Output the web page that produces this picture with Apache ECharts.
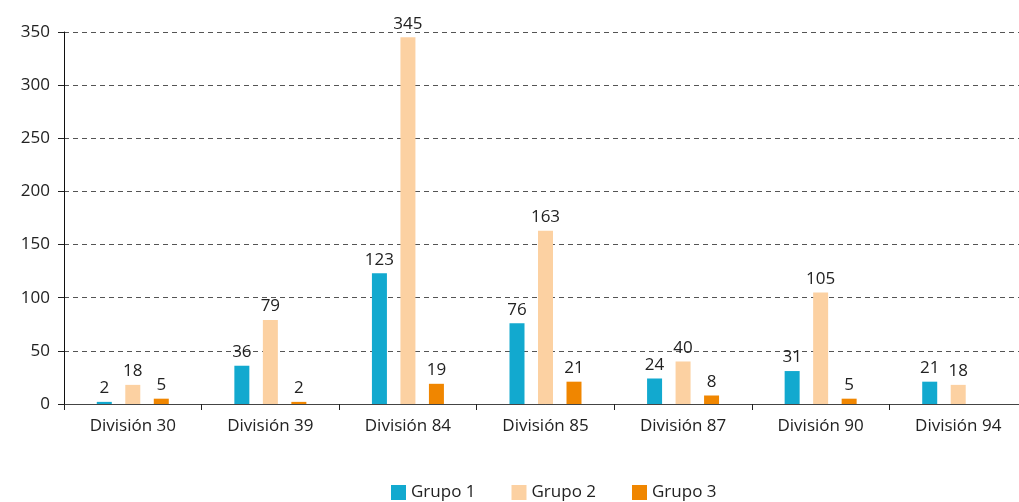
<!DOCTYPE html>
<html>
<head>
<meta charset="utf-8">
<script src="https://cdn.jsdelivr.net/npm/echarts@6/dist/echarts.min.js"></script>
<style>
  html, body { margin: 0; padding: 0; background: #fff; overflow: hidden; }
  #chart { width: 1027px; height: 502px; }
</style>
</head>
<body>
<div id="chart"></div>
<script>
const categories = ['División 30', 'División 39', 'División 84', 'División 85', 'División 87', 'División 90', 'División 94'];
const grupo1 = [2, 36, 123, 76, 24, 31, 21];
const grupo2 = [18, 79, 345, 163, 40, 105, 18];
const grupo3 = [5, 2, 19, 21, 8, 5, null];
const yTicks = { min: 0, max: 350, interval: 50 };

const font = '"Open Sans", Lato, sans-serif';

function bar(name, data, color) {
  return {
    name: name,
    type: 'bar',
    data: data,
    barWidth: 15,
    barGap: '90%',
    itemStyle: { color: color },
    label: {
      show: true,
      position: 'top',
      distance: 5,
      color: '#222',
      fontSize: 17,
      fontFamily: font
    }
  };
}

const chart = echarts.init(document.getElementById('chart'));
chart.setOption({
  animation: false,
  textStyle: { fontFamily: font },
  grid: { left: 64, right: 0, top: 32, bottom: 98, containLabel: false },
  legend: {
    top: 479,
    left: 386,
    itemWidth: 15,
    itemHeight: 15,
    itemGap: 36,
    icon: 'rect',
    textStyle: { fontSize: 17, color: '#222', fontFamily: font },
    data: ['Grupo 1', 'Grupo 2', 'Grupo 3']
  },
  xAxis: {
    type: 'category',
    data: categories,
    axisLine: { lineStyle: { color: '#444', width: 1 } },
    axisTick: { show: true, length: 6, lineStyle: { color: '#222' } },
    axisLabel: { fontSize: 17, color: '#222', margin: 14, fontFamily: font }
  },
  yAxis: {
    type: 'value',
    min: yTicks.min,
    max: yTicks.max,
    interval: yTicks.interval,
    axisLine: { show: true, lineStyle: { color: '#111', width: 1 } },
    axisTick: { show: true, length: 6, lineStyle: { color: '#222' } },
    axisLabel: { fontSize: 17, color: '#222', margin: 14, fontFamily: font },
    splitLine: { show: true, lineStyle: { type: [5, 4], color: '#555', width: 1 } }
  },
  series: [
    bar('Grupo 1', grupo1, '#12a9cf'),
    bar('Grupo 2', grupo2, '#fcd1a2'),
    bar('Grupo 3', grupo3, '#f08600')
  ]
});
</script>
</body>
</html>
